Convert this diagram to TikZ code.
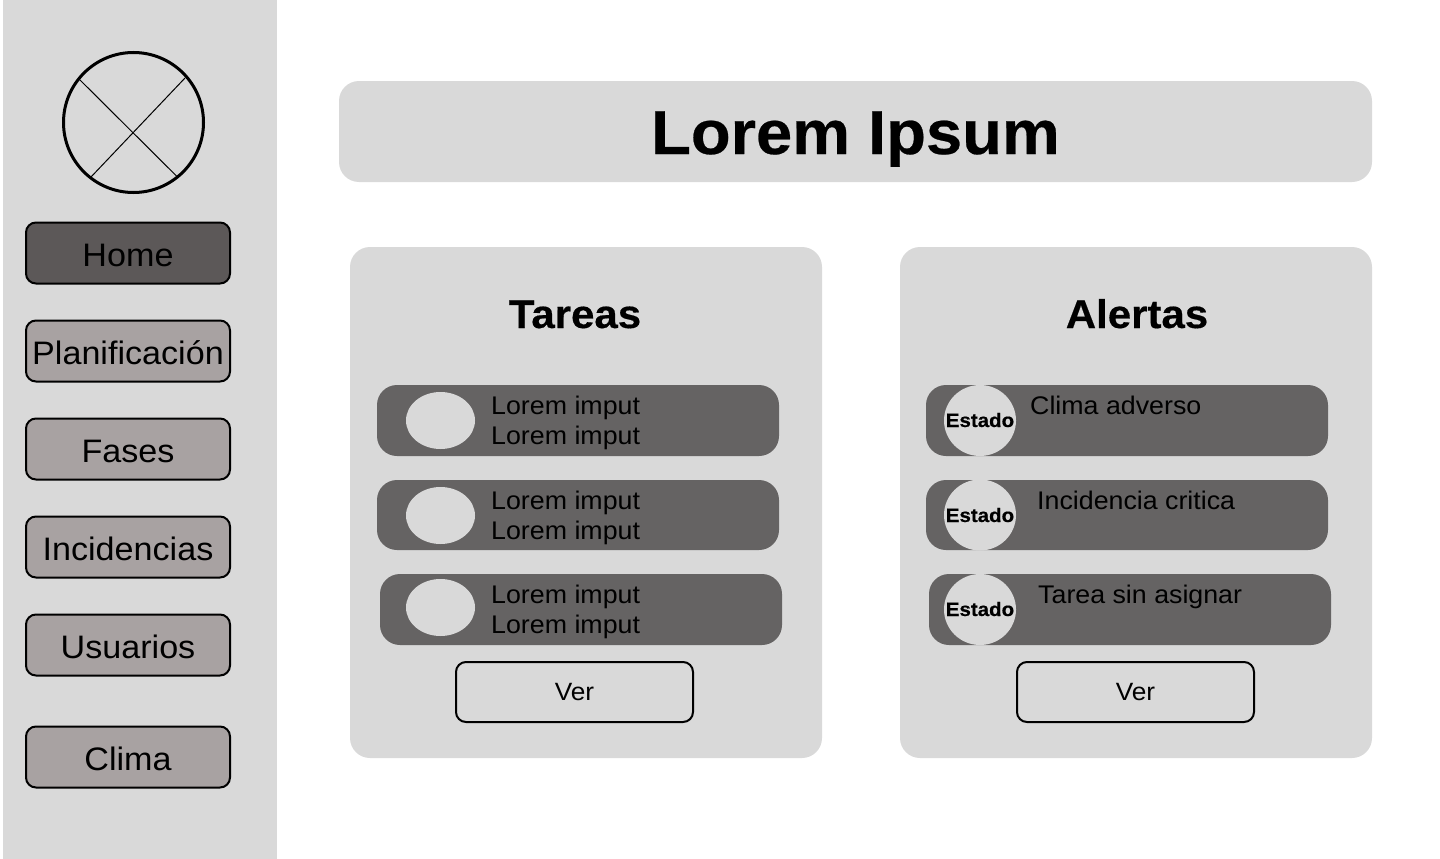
\documentclass[tikz,border=0pt]{standalone}
\usepackage{fontspec}
\setmainfont[FakeStretch=1.05]{Liberation Sans}
\usetikzlibrary{shapes.geometric}
\definecolor{panelgray}{HTML}{D9D9D9}
\definecolor{rowgray}{HTML}{656363}
\definecolor{navgray}{HTML}{A8A2A2}
\definecolor{navdark}{HTML}{5C5858}
\tikzset{
  panelbox/.style={fill=panelgray,rounded corners=20pt,inner sep=0pt,minimum width=472pt,minimum height=511pt},
  navbox/.style={draw=black,line width=2pt,fill=navgray,rounded corners=10pt,inner sep=0pt,minimum width=204pt,minimum height=61pt,text height=26pt,text depth=0pt,font=\fontsize{32.5}{38}\selectfont},
  rowbox/.style={fill=rowgray,rounded corners=20pt,inner sep=0pt,minimum width=402pt,minimum height=71pt},
  verbox/.style={draw=black,line width=2pt,fill=panelgray,rounded corners=10pt,inner sep=0pt,minimum width=237pt,minimum height=60pt,text height=17pt,text depth=0pt,font=\fontsize{25}{30}\selectfont},
  dotshape/.style={ellipse,fill=panelgray,inner sep=0pt,minimum width=69pt,minimum height=57pt},
  stateshape/.style={ellipse,fill=panelgray,inner sep=0pt,minimum width=72pt,minimum height=71pt},
  statetext/.style={anchor=base,inner sep=0pt,font=\fontsize{19.5}{24}\selectfont\bfseries\addfontfeature{FakeBold=0.4}},
  rowtext/.style={anchor=base west,inner sep=0pt,font=\fontsize{25.5}{31}\selectfont},
  headtext/.style={anchor=base,inner sep=0pt,font=\fontsize{40}{48}\selectfont\bfseries\addfontfeature{FakeBold=0.4}}
}
\begin{document}
\begin{tikzpicture}[x=1pt,y=-1pt]
\useasboundingbox (0,0) rectangle (1440,859);
\node[fill=panelgray,inner sep=0pt,minimum width=274pt,minimum height=859pt] (side) at (140,429.5) {};
\node[draw=black,line width=3pt,circle,inner sep=0pt,minimum size=140pt] (logo) at (133.5,122.5) {};
\coordinate (P) at (79,79);
\coordinate (Q) at (177,176.5);
\coordinate (R) at (185,78);
\coordinate (S) at (91,177);
\draw[line width=1pt] (P) -- (Q);
\draw[line width=1pt] (R) -- (S);
\node[navbox,fill=navdark] (home) at (128,253) {Home};
\node[navbox] (plan) at (128,351) {Planificación};
\node[navbox] (fases) at (128,449) {Fases};
\node[navbox] (inci) at (128,547) {Incidencias};
\node[navbox] (usua) at (128,645) {Usuarios};
\node[navbox] (clima) at (128,757) {Clima};
\node[fill=panelgray,rounded corners=20pt,inner sep=0pt,minimum width=1033pt,minimum height=101pt,text height=45pt,text depth=0pt,font=\fontsize{62}{74}\selectfont\bfseries\addfontfeature{FakeBold=0.4}] (title) at (855.5,131.5) {Lorem Ipsum};
\node[panelbox] (tareas) at (586,502.5) {};
\node[panelbox] (alertas) at (1136,502.5) {};
\node[headtext] (tareash) at (575,328) {Tareas};
\node[headtext] (alertash) at (1137,328) {Alertas};
\node[rowbox] (ta) at (578,420.5) {};
\node[rowbox,minimum height=70pt] (tb) at (578,515) {};
\node[rowbox] (tc) at (581,609.5) {};
\node[dotshape] (da) at (440.5,420.5) {};
\node[dotshape] (db) at (440.5,515.5) {};
\node[dotshape] (dc) at (440.5,607.5) {};
\node[rowtext] (ta1) at (491,414) {Lorem imput};
\node[rowtext] (ta2) at (491,444) {Lorem imput};
\node[rowtext] (tb1) at (491,509) {Lorem imput};
\node[rowtext] (tb2) at (491,539) {Lorem imput};
\node[rowtext] (tc1) at (491,603) {Lorem imput};
\node[rowtext] (tc2) at (491,633) {Lorem imput};
\node[verbox] (vert) at (574.5,692) {Ver};
\node[rowbox] (aa) at (1127,420.5) {};
\node[rowbox,minimum height=70pt] (ab) at (1127,515) {};
\node[rowbox] (ac) at (1130,609.5) {};
\node[stateshape] (ea) at (980,420.5) {};
\node[stateshape] (eb) at (980,515) {};
\node[stateshape] (ec) at (980,609.5) {};
\node[statetext] (ea1) at (980,427) {Estado};
\node[statetext] (eb1) at (980,522) {Estado};
\node[statetext] (ec1) at (980,616) {Estado};
\node[rowtext] (aa1) at (1030,414) {Clima adverso};
\node[rowtext] (ab1) at (1037,509) {Incidencia critica};
\node[rowtext] (ac1) at (1038,603) {Tarea sin asignar};
\node[verbox] (vera) at (1135.5,692) {Ver};
\end{tikzpicture}
\end{document}
